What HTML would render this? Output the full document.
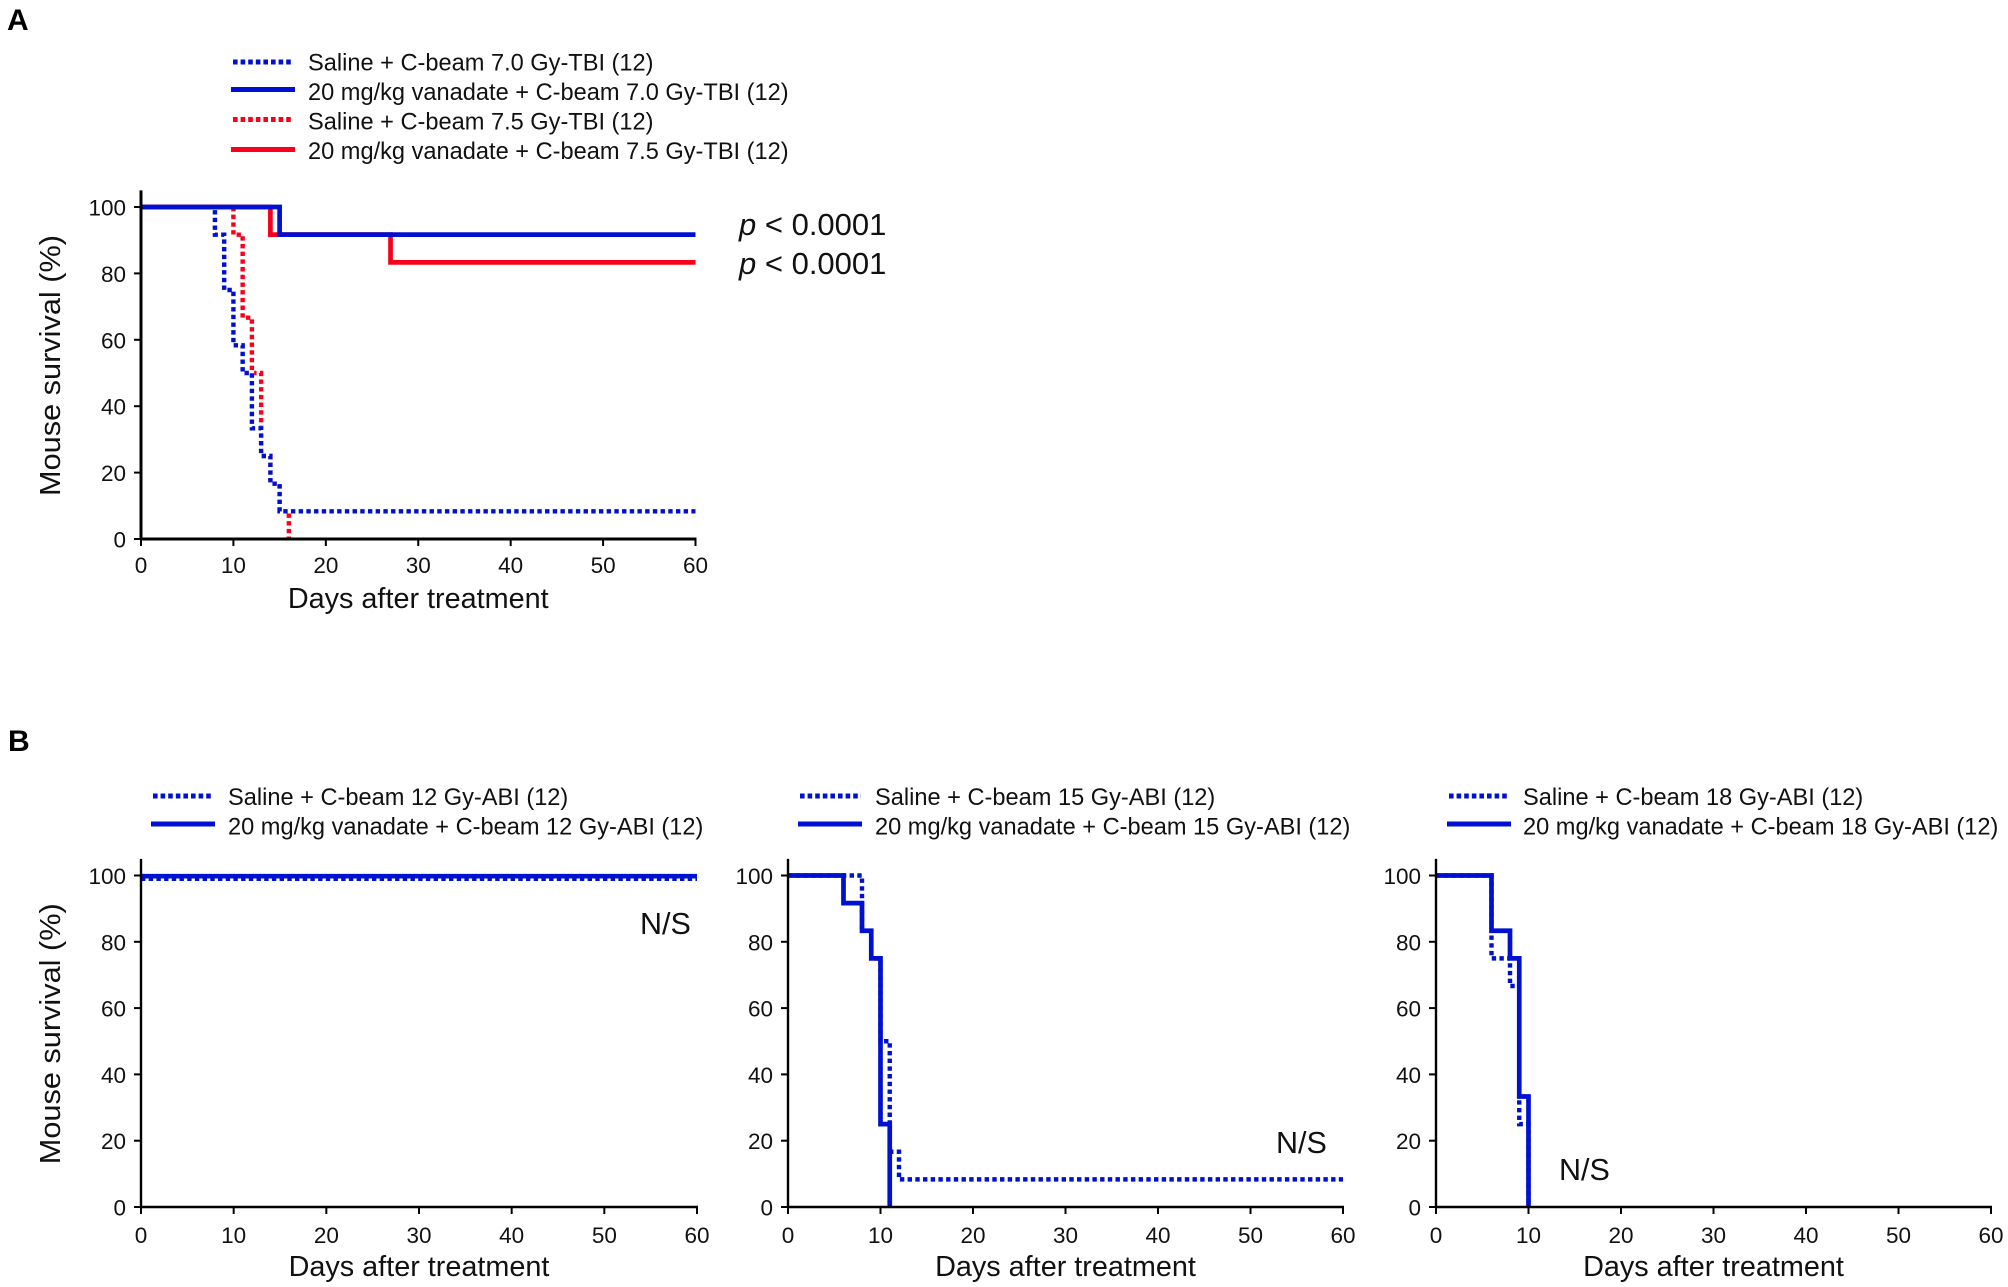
<!DOCTYPE html>
<html lang="en">
<head>
<meta charset="utf-8">
<title>Mouse survival after C-beam irradiation</title>
<style>
  html, body { margin: 0; padding: 0; background: #fff; }
  svg { display: block; }
  text { font-family: "Liberation Sans", Arial, sans-serif; fill: #111; }
  .tick { font-size: 22.5px; }
  .legend { font-size: 23.6px; }
  .title { font-size: 28.8px; }
  .note { font-size: 30.5px; }
  .pvalue { font-size: 31px; }
  .panel-letter { font-size: 30px; font-weight: bold; fill: #000; }
</style>
</head>
<body>
<svg id="figure" xmlns="http://www.w3.org/2000/svg" width="2008" height="1287" viewBox="0 0 2008 1287">
  <rect x="0" y="0" width="2008" height="1287" fill="#ffffff"/>
  <text class="panel-letter" x="7" y="30">A</text>
  <text class="panel-letter" x="8" y="751">B</text>

  <g>
    <line x1="233" x2="293" y1="62" y2="62" stroke="#0010d0" stroke-width="5" stroke-dasharray="4.6 3"/>
    <text class="legend" x="308" y="70.5">Saline + C-beam 7.0 Gy-TBI (12)</text>
    <line x1="231" x2="295" y1="89.5" y2="89.5" stroke="#0010d0" stroke-width="5"/>
    <text class="legend" x="308" y="100">20 mg/kg vanadate + C-beam 7.0 Gy-TBI (12)</text>
    <line x1="233" x2="293" y1="119.5" y2="119.5" stroke="#f8001c" stroke-width="5" stroke-dasharray="4.6 3"/>
    <text class="legend" x="308" y="129.5">Saline + C-beam 7.5 Gy-TBI (12)</text>
    <line x1="231" x2="295" y1="149.5" y2="149.5" stroke="#f8001c" stroke-width="5"/>
    <text class="legend" x="308" y="159">20 mg/kg vanadate + C-beam 7.5 Gy-TBI (12)</text>
  </g>

  <g>
    <line x1="153" x2="213" y1="796" y2="796" stroke="#0010d0" stroke-width="5" stroke-dasharray="4.6 3"/>
    <text class="legend" x="228" y="805">Saline + C-beam 12 Gy-ABI (12)</text>
    <line x1="151" x2="215" y1="824" y2="824" stroke="#0010d0" stroke-width="5"/>
    <text class="legend" x="228" y="834.5">20 mg/kg vanadate + C-beam 12 Gy-ABI (12)</text>
  </g>
  <g>
    <line x1="800" x2="861" y1="796" y2="796" stroke="#0010d0" stroke-width="5" stroke-dasharray="4.6 3"/>
    <text class="legend" x="875" y="805">Saline + C-beam 15 Gy-ABI (12)</text>
    <line x1="798" x2="862" y1="824" y2="824" stroke="#0010d0" stroke-width="5"/>
    <text class="legend" x="875" y="834.5">20 mg/kg vanadate + C-beam 15 Gy-ABI (12)</text>
  </g>
  <g>
    <line x1="1449" x2="1509" y1="796" y2="796" stroke="#0010d0" stroke-width="5" stroke-dasharray="4.6 3"/>
    <text class="legend" x="1523" y="805">Saline + C-beam 18 Gy-ABI (12)</text>
    <line x1="1447" x2="1511" y1="824" y2="824" stroke="#0010d0" stroke-width="5"/>
    <text class="legend" x="1523" y="834.5">20 mg/kg vanadate + C-beam 18 Gy-ABI (12)</text>
  </g>

  <text class="pvalue" x="739" y="235"><tspan font-style="italic">p</tspan> &lt; 0.0001</text>
  <text class="pvalue" x="739" y="274"><tspan font-style="italic">p</tspan> &lt; 0.0001</text>
  <text class="note" x="640" y="934">N/S</text>
  <text class="note" x="1276" y="1153">N/S</text>
  <text class="note" x="1559" y="1180">N/S</text>

  <g id="charts"></g>
</svg>

<script>
// Shared axis labels
const xTickValues = [0, 10, 20, 30, 40, 50, 60];
const yTickValues = [0, 20, 40, 60, 80, 100];

// Panel A
const aSaline70Days = [0, 8, 9, 10, 11, 12, 13, 14, 15, 60];
const aSaline70Survival = [100, 91.67, 75, 58.33, 50, 33.33, 25, 16.67, 8.33, 8.33];
const aSaline75Days = [0, 10, 11, 12, 13, 14, 15, 16];
const aSaline75Survival = [100, 91.67, 66.67, 50, 25, 16.67, 8.33, 0];
const aVanadate70Days = [0, 15, 60];
const aVanadate70Survival = [100, 91.67, 91.67];
const aVanadate75Days = [0, 14, 27, 60];
const aVanadate75Survival = [100, 91.67, 83.33, 83.33];

// Panel B, 12 Gy
const b12SalineDays = [0, 60];
const b12SalineSurvival = [99, 99];
const b12VanadateDays = [0, 60];
const b12VanadateSurvival = [99.8, 99.8];

// Panel B, 15 Gy
const b15SalineDays = [0, 8, 9, 10, 11, 12, 60];
const b15SalineSurvival = [100, 83.33, 75, 50, 16.67, 8.33, 8.33];
const b15VanadateDays = [0, 6, 8, 9, 10, 11];
const b15VanadateSurvival = [100, 91.67, 83.33, 75, 25, 0];

// Panel B, 18 Gy
const b18SalineDays = [0, 6, 8, 9, 10];
const b18SalineSurvival = [100, 75, 66.67, 25, 0];
const b18VanadateDays = [0, 6, 8, 9, 10];
const b18VanadateSurvival = [100, 83.33, 75, 33.33, 0];

const BLUE = '#0010d0';
const RED = '#f8001c';
const NS = 'http://www.w3.org/2000/svg';
const root = document.getElementById('charts');

function svgEl(tag, parent) {
  const el = document.createElementNS(NS, tag);
  parent.appendChild(el);
  return el;
}

function stepPath(days, survival, xScale, yScale) {
  let d = 'M' + xScale(days[0]) + ' ' + yScale(survival[0]);
  for (let i = 1; i < days.length; i++) {
    d += ' H' + xScale(days[i]);
    d += ' V' + yScale(survival[i]);
  }
  return d;
}

function drawPanel(panel) {
  const xScale = function (day) { return panel.left + (day / 60) * (panel.right - panel.left); };
  const yScale = function (pct) { return panel.bottom - (pct / 100) * (panel.bottom - panel.top); };

  const g = svgEl('g', root);
  
  

  panel.series.forEach(function (s) {
    const pathData = stepPath(s.days, s.survival, xScale, yScale);
    if (s.backing) {
      const backing = svgEl('path', g);
      
      
      backing.setAttribute('d', pathData);
      backing.setAttribute('fill', 'none');
      backing.setAttribute('stroke', '#ffffff');
      backing.setAttribute('stroke-width', 4.4);
    }
    const path = svgEl('path', g);
    
    
    path.setAttribute('d', pathData);
    path.setAttribute('fill', 'none');
    path.setAttribute('stroke', s.color);
    path.setAttribute('stroke-width', s.dotted ? 4.4 : 4.7);
    path.setAttribute('stroke-linejoin', 'miter');
    if (s.dotted) path.setAttribute('stroke-dasharray', '4.4 3.3');
  });

  const yAxis = svgEl('line', g);
  
  
  yAxis.setAttribute('x1', panel.left);
  yAxis.setAttribute('x2', panel.left);
  yAxis.setAttribute('y1', yScale(105));
  yAxis.setAttribute('y2', panel.bottom + 1);
  yAxis.setAttribute('stroke', '#000');
  yAxis.setAttribute('stroke-width', panel.axisWidth);

  const xAxis = svgEl('line', g);
  
  
  xAxis.setAttribute('x1', panel.left - 1);
  xAxis.setAttribute('x2', panel.right + 1);
  xAxis.setAttribute('y1', panel.bottom);
  xAxis.setAttribute('y2', panel.bottom);
  xAxis.setAttribute('stroke', '#000');
  xAxis.setAttribute('stroke-width', panel.axisWidth);

  xTickValues.forEach(function (v) {
    const tick = svgEl('line', g);
    
    
    tick.setAttribute('x1', xScale(v));
    tick.setAttribute('x2', xScale(v));
    tick.setAttribute('y1', panel.bottom);
    tick.setAttribute('y2', panel.bottom + 7);
    tick.setAttribute('stroke', '#000');
    tick.setAttribute('stroke-width', 2);

    const label = svgEl('text', g);
    
    
    label.setAttribute('class', 'tick');
    label.setAttribute('x', xScale(v));
    label.setAttribute('y', panel.bottom + panel.tickOffset);
    label.setAttribute('text-anchor', 'middle');
    label.textContent = v;
  });

  yTickValues.forEach(function (v) {
    const tick = svgEl('line', g);
    
    
    tick.setAttribute('x1', panel.left - 7);
    tick.setAttribute('x2', panel.left);
    tick.setAttribute('y1', yScale(v));
    tick.setAttribute('y2', yScale(v));
    tick.setAttribute('stroke', '#000');
    tick.setAttribute('stroke-width', 2);

    const label = svgEl('text', g);
    
    
    label.setAttribute('class', 'tick');
    label.setAttribute('x', panel.left - 15);
    label.setAttribute('y', yScale(v) + 8.5);
    label.setAttribute('text-anchor', 'end');
    label.textContent = v;
  });

  const xTitle = svgEl('text', g);
  
  
  xTitle.setAttribute('class', 'title');
  xTitle.setAttribute('x', (panel.left + panel.right) / 2);
  xTitle.setAttribute('y', panel.bottom + 69);
  xTitle.setAttribute('text-anchor', 'middle');
  xTitle.textContent = 'Days after treatment';

  if (panel.yTitle) {
    const yTitle = svgEl('text', g);
    const cy = (panel.top + panel.bottom) / 2 - 7.5;
    
    
    yTitle.setAttribute('class', 'title');
    yTitle.setAttribute('text-anchor', 'middle');
    yTitle.setAttribute('transform', 'translate(60 ' + cy + ') rotate(-90)');
    yTitle.setAttribute('textLength', '261');
    yTitle.setAttribute('lengthAdjust', 'spacingAndGlyphs');
    yTitle.textContent = 'Mouse survival (%)';
  }
}

drawPanel({
  name: 'panel-a-7-gy-tbi', left: 141, right: 695.5, top: 207, bottom: 539, yTitle: true, axisWidth: 3, tickOffset: 34,
  series: [
    { name: 'series-saline-7-5-gy', days: aSaline75Days, survival: aSaline75Survival, color: RED, dotted: true },
    { name: 'series-saline-7-0-gy', days: aSaline70Days, survival: aSaline70Survival, color: BLUE, dotted: true, backing: true },
    { name: 'series-vanadate-7-5-gy', days: aVanadate75Days, survival: aVanadate75Survival, color: RED, dotted: false },
    { name: 'series-vanadate-7-0-gy', days: aVanadate70Days, survival: aVanadate70Survival, color: BLUE, dotted: false }
  ]
});
drawPanel({
  name: 'panel-b-12-gy-abi', left: 141, right: 697, top: 875.5, bottom: 1207, yTitle: true, axisWidth: 2.4, tickOffset: 36,
  series: [
    { name: 'series-saline-12-gy', days: b12SalineDays, survival: b12SalineSurvival, color: BLUE, dotted: true },
    { name: 'series-vanadate-12-gy', days: b12VanadateDays, survival: b12VanadateSurvival, color: BLUE, dotted: false }
  ]
});
drawPanel({
  name: 'panel-b-15-gy-abi', left: 788, right: 1343, top: 875.5, bottom: 1207, yTitle: false, axisWidth: 2.4, tickOffset: 36,
  series: [
    { name: 'series-saline-15-gy', days: b15SalineDays, survival: b15SalineSurvival, color: BLUE, dotted: true },
    { name: 'series-vanadate-15-gy', days: b15VanadateDays, survival: b15VanadateSurvival, color: BLUE, dotted: false }
  ]
});
drawPanel({
  name: 'panel-b-18-gy-abi', left: 1436, right: 1991, top: 875.5, bottom: 1207, yTitle: false, axisWidth: 2.4, tickOffset: 36,
  series: [
    { name: 'series-saline-18-gy', days: b18SalineDays, survival: b18SalineSurvival, color: BLUE, dotted: true },
    { name: 'series-vanadate-18-gy', days: b18VanadateDays, survival: b18VanadateSurvival, color: BLUE, dotted: false }
  ]
});
</script>
</body>
</html>
